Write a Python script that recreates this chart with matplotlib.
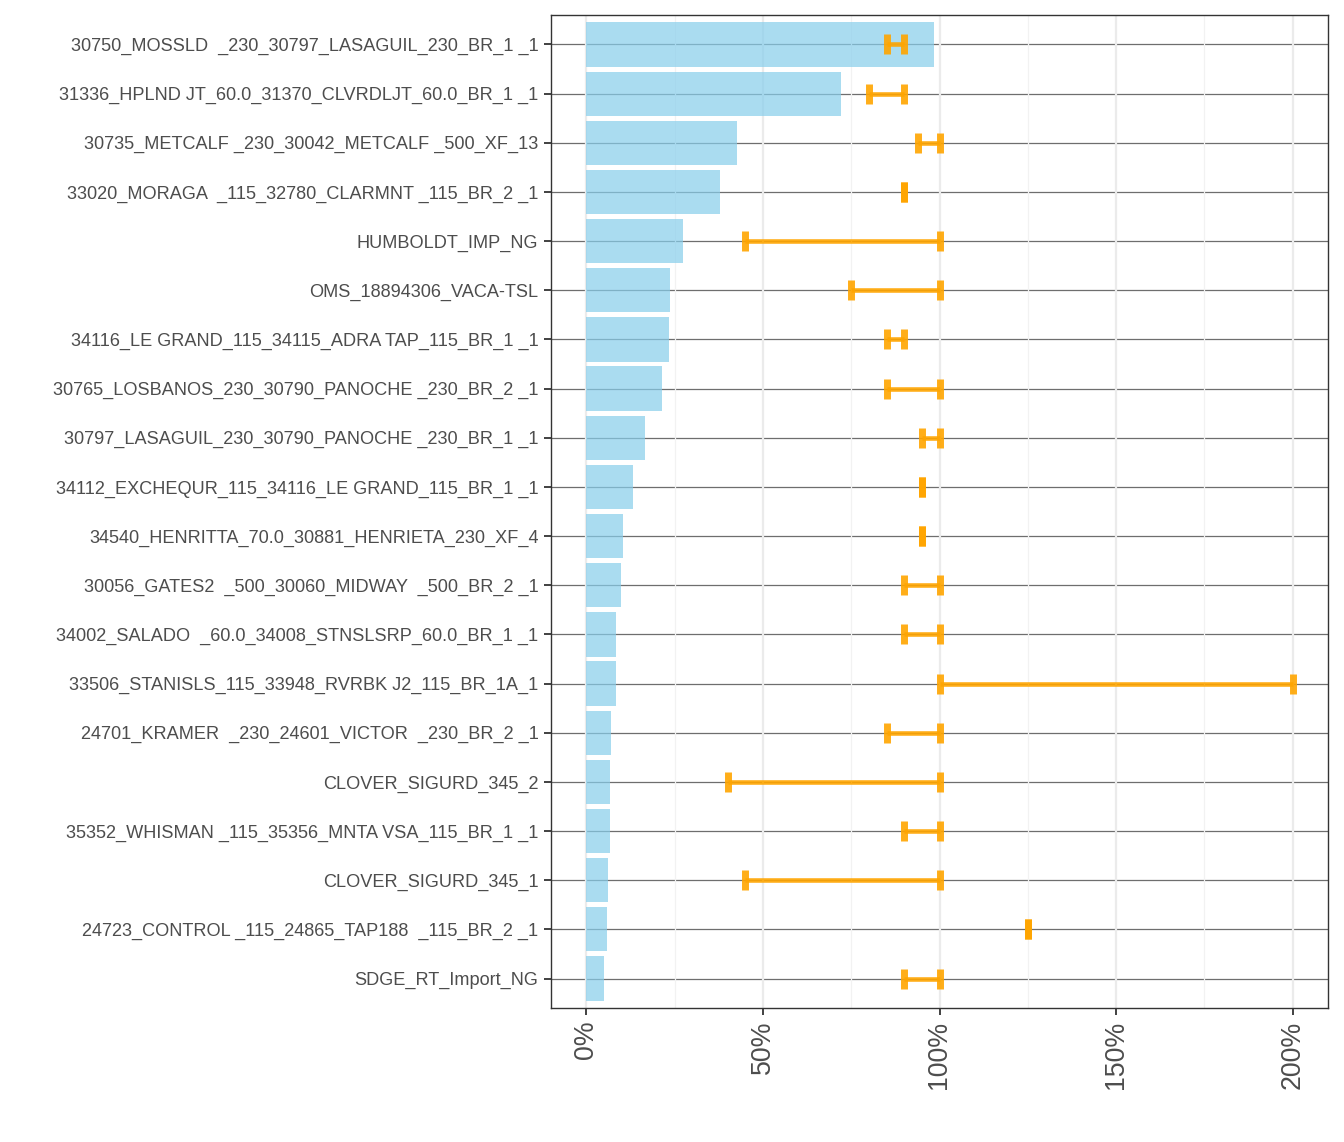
import matplotlib
matplotlib.use("Agg")
import matplotlib.pyplot as plt
from matplotlib.ticker import FixedLocator, FuncFormatter, MultipleLocator

constraints = [
    "30750_MOSSLD  _230_30797_LASAGUIL_230_BR_1 _1",
    "31336_HPLND JT_60.0_31370_CLVRDLJT_60.0_BR_1 _1",
    "30735_METCALF _230_30042_METCALF _500_XF_13",
    "33020_MORAGA  _115_32780_CLARMNT _115_BR_2 _1",
    "HUMBOLDT_IMP_NG",
    "OMS_18894306_VACA-TSL",
    "34116_LE GRAND_115_34115_ADRA TAP_115_BR_1 _1",
    "30765_LOSBANOS_230_30790_PANOCHE _230_BR_2 _1",
    "30797_LASAGUIL_230_30790_PANOCHE _230_BR_1 _1",
    "34112_EXCHEQUR_115_34116_LE GRAND_115_BR_1 _1",
    "34540_HENRITTA_70.0_30881_HENRIETA_230_XF_4",
    "30056_GATES2  _500_30060_MIDWAY  _500_BR_2 _1",
    "34002_SALADO  _60.0_34008_STNSLSRP_60.0_BR_1 _1",
    "33506_STANISLS_115_33948_RVRBK J2_115_BR_1A_1",
    "24701_KRAMER  _230_24601_VICTOR  _230_BR_2 _1",
    "CLOVER_SIGURD_345_2",
    "35352_WHISMAN _115_35356_MNTA VSA_115_BR_1 _1",
    "CLOVER_SIGURD_345_1",
    "24723_CONTROL _115_24865_TAP188  _115_BR_2 _1",
    "SDGE_RT_Import_NG",
]
bar_pct = [98.4, 72.2, 42.6, 37.8, 27.4, 23.7, 23.4, 21.4, 16.6, 13.3,
           10.4, 9.9, 8.5, 8.5, 7.1, 6.8, 6.8, 6.2, 5.9, 5.1]
range_low = [85, 80, 94, 90, 45, 75, 85, 85, 95, 95,
             95, 90, 90, 100, 85, 40, 90, 45, 125, 90]
range_high = [90, 90, 100, 90, 100, 100, 90, 100, 100, 95,
              95, 100, 100, 200, 100, 100, 100, 100, 125, 100]
x_ticks = [0, 50, 100, 150, 200]

plt.rcParams['font.family'] = ['Liberation Sans', 'DejaVu Sans']

fig = plt.figure(figsize=(13.44, 11.42), dpi=100)
ax = fig.add_axes([551/1344, 1 - 1008/1142, (1328-551)/1344, (1008-15)/1142])

n = len(constraints)
ypos = list(range(n))

# horizontal reference lines at each category
for y in ypos:
    ax.axhline(y, color="#6e6e6e", lw=0.9, zorder=0.5)

# vertical grid
ax.set_axisbelow(True)
ax.xaxis.set_major_locator(FixedLocator(x_ticks))
ax.xaxis.set_minor_locator(MultipleLocator(25))
ax.grid(which="major", axis="x", color="#ebebeb", lw=1.6, zorder=0.6)
ax.grid(which="minor", axis="x", color="#f2f2f2", lw=0.9, zorder=0.6)

ax.barh(ypos, bar_pct, height=0.9, color="skyblue", alpha=0.7, zorder=2)

for y, lo, hi in zip(ypos, range_low, range_high):
    ax.errorbar([(lo + hi) / 2], [y], xerr=[[(hi - lo) / 2], [(hi - lo) / 2]],
                fmt="none", ecolor="orange", alpha=0.9, elinewidth=3.3,
                capsize=7.3, capthick=5, zorder=3)

ax.set_xlim(-10, 210)
ax.set_ylim(n - 1 + 0.6, -0.6)
ax.set_yticks(ypos)
ax.set_yticklabels(constraints, fontsize=13.1, color="#4d4d4d")
ax.xaxis.set_major_formatter(FuncFormatter(lambda v, p: f"{int(v)}%"))
ax.tick_params(axis="x", which="major", labelsize=19.3, labelcolor="#4d4d4d",
               length=5, width=1.3, color="#333333", labelrotation=90, pad=4)
ax.tick_params(axis="x", which="minor", length=0)
ax.tick_params(axis="y", length=5, width=1.3, color="#333333", pad=4)
for s in ax.spines.values():
    s.set_color("#333333")
    s.set_linewidth(1.0)

fig.savefig("out.png", dpi=100, facecolor="white")
